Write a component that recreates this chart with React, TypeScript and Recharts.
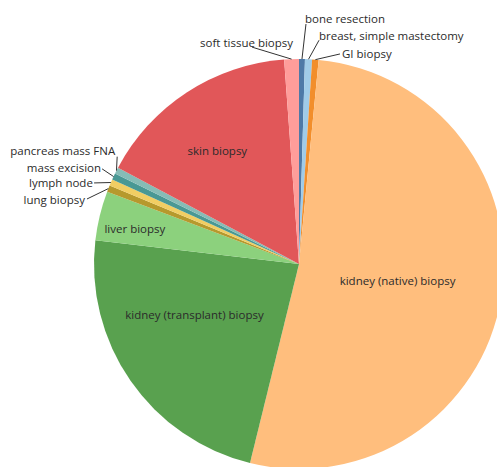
import React from 'react';
import { PieChart, Pie, Cell } from 'recharts';

const categories = [
  'bone resection',
  'breast, simple mastectomy',
  'GI biopsy',
  'kidney (native) biopsy',
  'kidney (transplant) biopsy',
  'liver biopsy',
  'lung biopsy',
  'lymph node',
  'mass excision',
  'pancreas mass FNA',
  'skin biopsy',
  'soft tissue biopsy',
];

const counts = [1, 1.2, 1.1, 113, 49.7, 8.4, 1.1, 1.1, 1.1, 1.1, 34.7, 2.5];

const colors = [
  '#4E79A7',
  '#A0CBE8',
  '#F28E2B',
  '#FFBE7D',
  '#59A14F',
  '#8CD17D',
  '#B6992D',
  '#F1CE63',
  '#499894',
  '#86BCB6',
  '#E15759',
  '#FF9D9A',
];

const data = categories.map((name, i) => ({ name, value: counts[i] }));

type Inside = { kind: 'inside'; r: number; dAngle: number };
type Outside = {
  kind: 'outside';
  line: [number, number];
  text: [number, number];
  anchor: 'start' | 'end';
};
const labelStyle: Record<string, Inside | Outside> = {
  'bone resection': { kind: 'outside', line: [4, -35], text: [3, -41], anchor: 'start' },
  'breast, simple mastectomy': { kind: 'outside', line: [10.5, -19], text: [10.5, -24], anchor: 'start' },
  'GI biopsy': { kind: 'outside', line: [24.6, -5.7], text: [26.6, -5.7], anchor: 'start' },
  'kidney (native) biopsy': { kind: 'inside', r: 100, dAngle: 0 },
  'kidney (transplant) biopsy': { kind: 'inside', r: 116, dAngle: -9 },
  'liver biopsy': { kind: 'inside', r: 168, dAngle: 1.3 },
  'lung biopsy': { kind: 'outside', line: [-21.4, 10.4], text: [-23.4, 11], anchor: 'end' },
  'lymph node': { kind: 'outside', line: [-16.8, 0.4], text: [-18, 0.4], anchor: 'end' },
  'mass excision': { kind: 'outside', line: [-11.5, -7.7], text: [-12.5, -8.7], anchor: 'end' },
  'pancreas mass FNA': { kind: 'outside', line: [0.7, -14], text: [-1.3, -20], anchor: 'end' },
  'skin biopsy': { kind: 'inside', r: 140, dAngle: 2.6 },
  'soft tissue biopsy': { kind: 'outside', line: [-39.5, -12], text: [1.5, -17], anchor: 'end' },
};

const RAD = Math.PI / 180;
const FONT = '"Open Sans", sans-serif';
const FS = 11.5;

const renderLabel = (props: any) => {
  const { cx, cy, midAngle, outerRadius, name } = props;
  const st = labelStyle[name];
  if (!st) return null;
  if (st.kind === 'inside') {
    const a = (midAngle + st.dAngle) * RAD;
    const x = cx + st.r * Math.cos(-a);
    const y = cy + st.r * Math.sin(-a);
    return (
      <text
        x={x}
        y={y}
        textAnchor="middle"
        dominantBaseline="central"
        fill="#2b2b2b"
        fontSize={FS}
        fontFamily={FONT}
      >
        {name}
      </text>
    );
  }
  const a = midAngle * RAD;
  const px = cx + outerRadius * Math.cos(-a);
  const py = cy + outerRadius * Math.sin(-a);
  return (
    <g>
      <line
        x1={px}
        y1={py}
        x2={px + st.line[0]}
        y2={py + st.line[1]}
        stroke="#333"
        strokeWidth={1}
      />
      <text
        x={px + st.text[0]}
        y={py + st.text[1]}
        textAnchor={st.anchor}
        dominantBaseline="central"
        fill="#2b2b2b"
        fontSize={FS}
        fontFamily={FONT}
      >
        {name}
      </text>
    </g>
  );
};

export default function App() {
  return (
    <div style={{ position: 'absolute', left: 0, top: 0, width: 497, height: 467, background: '#fff' }}>
      <PieChart width={497} height={467} margin={{ top: 0, right: 0, bottom: 0, left: 0 }}>
        <Pie
          data={data}
          dataKey="value"
          nameKey="name"
          cx={299}
          cy={264}
          outerRadius={205}
          innerRadius={0}
          startAngle={90}
          endAngle={-270}
          stroke="none"
          label={renderLabel}
          labelLine={false}
          isAnimationActive={false}
        >
          {data.map((d, i) => (
            <Cell key={d.name} fill={colors[i]} stroke="none" />
          ))}
        </Pie>
      </PieChart>
    </div>
  );
}
